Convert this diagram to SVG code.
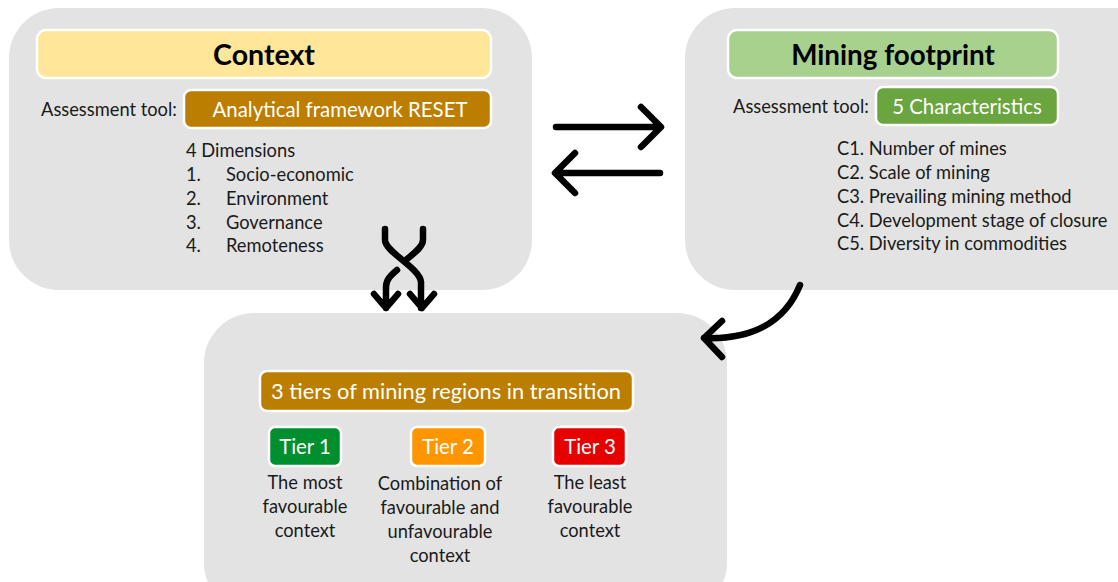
<svg xmlns="http://www.w3.org/2000/svg" width="1118" height="582" viewBox="0 0 1118 582">
  <defs>
    <style>
      .panel { fill: #E3E3E3; }
      .chip { stroke: #FFFFFF; stroke-width: 2.5; }
      .title { font-family: Lato, "Open Sans", "Liberation Sans", sans-serif; font-weight: 700; font-size: 28.5px; fill: #000; text-anchor: middle; }
      .txt { font-family: Lato, "Open Sans", "Liberation Sans", sans-serif; font-size: 18.3px; fill: #1A1A1A; }
      .wtxt { font-family: Lato, "Open Sans", "Liberation Sans", sans-serif; font-size: 20.4px; fill: #FFFFFF; text-anchor: middle; }
      .mid { text-anchor: middle; }
      .arrow { fill: none; stroke: #000; stroke-width: 6.5; stroke-linecap: round; stroke-linejoin: round; }
    </style>
  </defs>
  <rect width="1118" height="582" fill="#FFFFFF"/>

  <!-- Context panel -->
  <g id="context">
    <rect class="panel" x="9" y="8" width="523" height="282" rx="50"/>
    <rect class="chip" x="37" y="30" width="454" height="48" rx="9" fill="#FFE699"/>
    <text class="title" x="264" y="65">Context</text>
    <text class="txt" x="41" y="116">Assessment tool:</text>
    <rect class="chip" x="184" y="90" width="307" height="38" rx="7" fill="#BC7E00"/>
    <text class="wtxt" x="340" y="117">Analytical framework RESET</text>
    <text class="txt" x="186" y="157">4 Dimensions</text>
    <text class="txt" x="186" y="181">1.</text><text class="txt" x="226" y="181">Socio-economic</text>
    <text class="txt" x="186" y="205">2.</text><text class="txt" x="226" y="205">Environment</text>
    <text class="txt" x="186" y="229">3.</text><text class="txt" x="226" y="229">Governance</text>
    <text class="txt" x="186" y="252">4.</text><text class="txt" x="226" y="252">Remoteness</text>
  </g>

  <!-- Mining footprint panel -->
  <g id="mining-footprint">
    <rect class="panel" x="685" y="8" width="480" height="282" rx="50"/>
    <rect class="chip" x="728" y="30" width="330" height="48" rx="9" fill="#A9D18E"/>
    <text class="title" x="893" y="65" style="font-size:27.8px">Mining footprint</text>
    <text class="txt" x="733" y="113">Assessment tool:</text>
    <rect class="chip" x="876" y="87" width="182" height="38" rx="7" fill="#6AA53F"/>
    <text class="wtxt" x="967" y="114">5 Characteristics</text>
    <text class="txt" x="837" y="155">C1. Number of mines</text>
    <text class="txt" x="837" y="179">C2. Scale of mining</text>
    <text class="txt" x="837" y="203">C3. Prevailing mining method</text>
    <text class="txt" x="837" y="227">C4. Development stage of closure</text>
    <text class="txt" x="837" y="250">C5. Diversity in commodities</text>
  </g>

  <!-- Outcome panel -->
  <g id="tiers">
    <rect class="panel" x="204" y="313" width="523" height="300" rx="50"/>
    <rect class="chip" x="260" y="371" width="373" height="40" rx="7" fill="#BC7E00"/>
    <text class="wtxt" x="446" y="399" style="font-size:21.8px">3 tiers of mining regions in transition</text>
  </g>
  <g id="tier-1">
    <rect class="chip" x="269" y="427" width="72" height="39" rx="6" fill="#008F2E"/>
    <text class="wtxt" x="305" y="454">Tier 1</text>
    <text class="txt mid" x="305" y="489">The most</text>
    <text class="txt mid" x="305" y="513">favourable</text>
    <text class="txt mid" x="305" y="537">context</text>
  </g>
  <g id="tier-2">
    <rect class="chip" x="411" y="427" width="74" height="39" rx="6" fill="#FF9600"/>
    <text class="wtxt" x="448" y="454">Tier 2</text>
    <text class="txt mid" x="440" y="490">Combination of</text>
    <text class="txt mid" x="440" y="514">favourable and</text>
    <text class="txt mid" x="440" y="538">unfavourable</text>
    <text class="txt mid" x="440" y="562">context</text>
  </g>
  <g id="tier-3">
    <rect class="chip" x="553" y="427" width="73" height="39" rx="6" fill="#E60000"/>
    <text class="wtxt" x="590" y="454">Tier 3</text>
    <text class="txt mid" x="590" y="489">The least</text>
    <text class="txt mid" x="590" y="513">favourable</text>
    <text class="txt mid" x="590" y="537">context</text>
  </g>

  <!-- Connectors -->
  <g id="connectors">
    <!-- two-way exchange between context and footprint -->
    <path class="arrow" d="M556,127 H660 M641,107 L661,127 L641,147"/>
    <path class="arrow" d="M660,173 H556 M575,153 L555,173 L575,193"/>
    <!-- intertwined arrows into the tiers -->
    <path class="arrow" d="M385,229 V240 C385,252 420,268 421,282 V308 M410,294 L422,308 L434,294"/>
    <path class="arrow" d="M423,229 V240 C423,247 413,254 407,259"/>
    <path class="arrow" d="M397,270 C390,276 386,280 386,287 V308 M374,294 L386,308 L398,294"/>
    <!-- footprint to tiers -->
    <path class="arrow" d="M800,285 C785,322 752,340 704,338 M722,321 L704,338 L722,357"/>
  </g>
</svg>
